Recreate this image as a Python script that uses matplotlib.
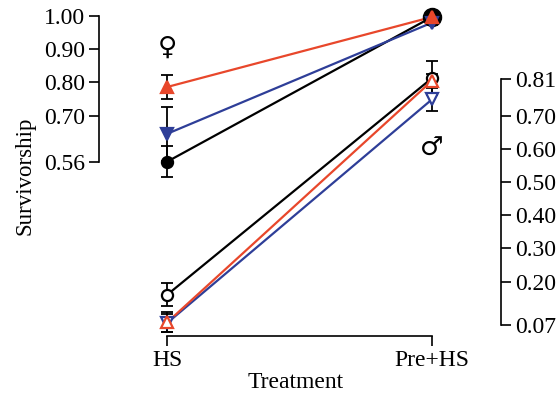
import numpy as np
import matplotlib
matplotlib.use("Agg")
import matplotlib.pyplot as plt

plt.rcParams['font.family'] = ['Liberation Serif', 'DejaVu Sans']

# treatments
treatments = ['HS', 'Pre+HS']

# females (filled markers, left axis)
fem_black = [0.561, 0.997]
fem_black_err = [0.046, 0.006]
fem_blue = [0.645, 0.980]
fem_blue_err = [0.082, 0.008]
fem_red = [0.786, 0.997]
fem_red_err = [0.037, 0.006]

# males (open markers, right axis)
male_black = [0.160, 0.813]
male_black_err = [0.035, 0.050]
male_blue = [0.075, 0.749]
male_blue_err = [0.028, 0.035]
male_red = [0.077, 0.805]
male_red_err = [0.030, 0.020]

left_ticks = [0.56, 0.70, 0.80, 0.90, 1.00]
right_ticks = [0.07, 0.20, 0.30, 0.40, 0.50, 0.60, 0.70, 0.81]

RED = '#e8472b'
BLUE = '#2e3e98'
BLACK = '#000000'

x = np.arange(len(treatments))

fig = plt.figure(figsize=(5.58, 3.98), dpi=100)
ax = fig.add_axes([99/558, 1-336/398, (501-99)/558, (336-5)/398])

def serie(y, err, color, marker, filled, ms=8):
    ax.errorbar(x, y, yerr=err, fmt='none', ecolor='black', elinewidth=1.3,
                capsize=4, capthick=1.3, zorder=2)
    ax.plot(x, y, color=color, lw=1.6, zorder=3)
    ax.plot(x, y, linestyle='none', marker=marker, ms=ms,
            markerfacecolor=color if filled else 'white',
            markeredgecolor=color, markeredgewidth=1.6, zorder=4)

# males
serie(male_black, male_black_err, BLACK, 'o', False)
serie(male_blue, male_blue_err, BLUE, 'v', False)
serie(male_red, male_red_err, RED, '^', False)

# females
serie(fem_black, fem_black_err, BLACK, 'o', True)
ax.plot(x[1], fem_black[1], 'o', ms=13, color=BLACK, zorder=4)
serie(fem_blue, fem_blue_err, BLUE, 'v', True)
serie(fem_red, fem_red_err, RED, '^', True)

ax.set_xlim(-0.257, 1.26)
ax.set_ylim(0.036, 1.033)

# left axis (females)
ax.spines['top'].set_visible(False)
ax.spines['left'].set_bounds(0.56, 1.00)
ax.spines['bottom'].set_bounds(0, 1)
ax.set_yticks(left_ticks)
ax.set_yticklabels(['%.2f' % t for t in left_ticks])
ax.set_xticks(x)
ax.set_xticklabels(treatments)
ax.tick_params(axis='both', labelsize=17, length=7, width=1.2, direction='out')
ax.tick_params(axis='x', pad=3)
ax.tick_params(axis='y', pad=3)

# right axis (males)
ax2 = ax.twinx()
ax2.set_ylim(ax.get_ylim())
for s in ['top', 'left', 'bottom']:
    ax2.spines[s].set_visible(False)
ax2.spines['right'].set_bounds(0.07, 0.81)
ax2.set_yticks(right_ticks)
ax2.set_yticklabels(['%.2f' % t for t in right_ticks])
ax2.tick_params(axis='y', labelsize=17, length=7, width=1.2, direction='out', pad=3)
ax.spines['right'].set_visible(False)
for a in (ax, ax2):
    for s in a.spines.values():
        s.set_linewidth(1.2)

# sex symbols
ax.text(x[0], 0.905, '\u2640', ha='center', va='center', fontsize=19,
        family=['DejaVu Sans'])
ax.text(x[1], 0.60, '\u2642', ha='center', va='center', fontsize=19,
        family=['DejaVu Sans'])

fig.text(25/558, 1-176/398, 'Survivorship', rotation=90, ha='center',
         va='center', fontsize=16.5)
fig.text(296/558, 1-383/398, 'Treatment', ha='center', va='center',
         fontsize=17)

fig.savefig('out.png', dpi=100)
